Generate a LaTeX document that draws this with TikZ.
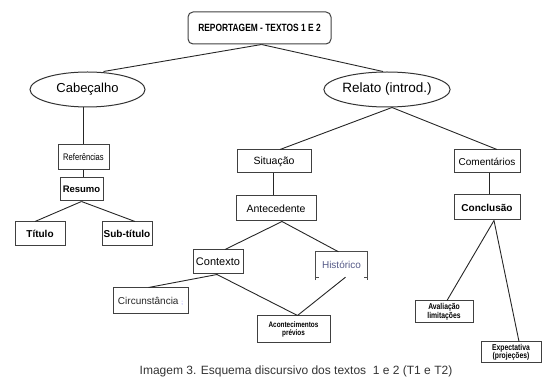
\documentclass[tikz,border=0pt]{standalone}
\usepackage{fontspec}
\setmainfont{Liberation Sans}
\usetikzlibrary{shapes.geometric}
\newcommand{\narrowtxt}[1]{\scalebox{0.8}[1]{#1}}
\definecolor{histc}{RGB}{85,90,135}
\begin{document}
\begin{tikzpicture}[x=1pt,y=-1pt,
  box/.style={draw=black!75,line width=1pt,inner sep=0pt,align=center},
  oval/.style={draw=black!80,ellipse,line width=1pt,inner sep=0pt},
  link/.style={draw=black!85,line width=0.9pt}]
\useasboundingbox (0,0) rectangle (549,379);
\node[box,rounded corners=5pt,minimum width=143pt,minimum height=32pt,font=\fontsize{10.5}{12}\selectfont\bfseries] (rep) at (259.5,28) {\narrowtxt{REPORTAGEM - TEXTOS 1 E 2}};
\node[oval,minimum width=115pt,minimum height=35pt,font=\fontsize{13}{15}\selectfont] (cab) at (87.5,89.5) {Cabeçalho};
\node[oval,minimum width=114pt,minimum height=35pt,font=\fontsize{13.5}{15}\selectfont] (rel) at (387,89.5) {Relato (introd.)};
\node[box,minimum width=51pt,minimum height=25pt,font=\fontsize{9.5}{11}\selectfont] (ref) at (83.5,157.5) {\narrowtxt{Referências}};
\node[box,minimum width=43pt,minimum height=23pt,font=\fontsize{9.5}{11}\selectfont\bfseries] (res) at (81.5,189.5) {Resumo};
\node[box,minimum width=50pt,minimum height=24pt,font=\fontsize{10}{12}\selectfont\bfseries] (tit) at (40,234) {Título};
\node[box,minimum width=50pt,minimum height=24pt,font=\fontsize{10}{12}\selectfont\bfseries] (sub) at (127,234) {Sub-título};
\node[box,minimum width=74pt,minimum height=23pt,font=\fontsize{10.5}{12}\selectfont] (sit) at (274,161.5) {Situação};
\node[box,minimum width=80pt,minimum height=25pt,font=\fontsize{10.5}{12}\selectfont] (ant) at (276,208.5) {Antecedente};
\node[box,minimum width=66pt,minimum height=23pt,font=\fontsize{10}{12}\selectfont] (com) at (487,161.5) {Comentários};
\node[box,minimum width=66pt,minimum height=25pt,font=\fontsize{10}{12}\selectfont\bfseries] (con) at (487,207.5) {Conclusão};
\node[box,minimum width=50pt,minimum height=24pt,font=\fontsize{11}{13}\selectfont] (ctx) at (218,262) {Contexto};
\node[inner sep=0pt,minimum width=51pt,minimum height=25pt,font=\fontsize{10}{12}\selectfont,text=histc] (his) at (341.5,264.5) {Histórico};
\draw[black!70,line width=1pt] ([yshift=-3pt]his.south west) -- (his.north west) -- (his.north east) -- ([yshift=-3pt]his.south east)
  (his.south west) -- ++(3,0) (his.south east) -- ++(-3,0);
\node[box,minimum width=75pt,minimum height=26pt,font=\fontsize{10}{12}\selectfont,text=black!85] (cir) at (150.5,301) {Circunstância {\color{blue!60}\fontsize{6}{7}\selectfont ;}};
\node[box,minimum width=73pt,minimum height=27pt,font=\fontsize{8}{9}\selectfont\bfseries] (acn) at (293.5,329.5) {\narrowtxt{Acontecimentos}\\[-1pt]\narrowtxt{prévios}};
\node[box,minimum width=58pt,minimum height=22pt,font=\fontsize{8.5}{9.5}\selectfont\bfseries] (ava) at (444,312) {\narrowtxt{Avaliação}\\[-1pt]\narrowtxt{limitações}};
\node[box,minimum width=60pt,minimum height=21pt,font=\fontsize{8.5}{9.5}\selectfont\bfseries] (exp) at (511,352.5) {\narrowtxt{Expectativa}\\[-1pt]\narrowtxt{(projeções)}};
\node[font=\fontsize{12}{14}\selectfont,text=black!80] (cap) at (296,371) {Imagem 3. Esquema discursivo dos textos \ 1 e 2 (T1 e T2)};
% connectors
\draw[link] ([xshift=2pt]rep.south) -- ([xshift=16pt]cab.north);
\draw[link] ([xshift=2pt]rep.south) -- ([xshift=-4pt]rel.north);
\draw[link] (ref.north) -- (ref.north |- cab.south);
\draw[link] (ref.south) -- (ref.south |- res.north);
\draw[link] (res.south) -- ([xshift=-5pt]tit.north);
\draw[link] (res.south) -- ([xshift=8pt]sub.north);
\draw[link] ([xshift=5pt]rel.south) -- ([xshift=6pt]sit.north);
\draw[link] ([xshift=5pt]rel.south) -- ([xshift=10pt]com.north);
\draw[link] ([xshift=-1pt]sit.south) -- ([xshift=-1pt]sit.south |- ant.north);
\draw[link] ([xshift=2pt]com.south) -- ([xshift=2pt]com.south |- con.north);
\draw[link] ([xshift=6pt]ant.south) -- ([xshift=7pt]ctx.north);
\draw[link] ([xshift=6pt]ant.south) -- ([xshift=-3pt]his.north);
\draw[link] ([xshift=-1pt]ctx.south) -- ([xshift=-2pt]cir.north);
\draw[link] ([xshift=-1pt]ctx.south) -- ([xshift=4pt]acn.north);
\draw[link] ([xshift=4pt]his.south) -- ([xshift=4pt]acn.north);
\draw[link] ([xshift=7pt]con.south) -- ([xshift=3pt]ava.north);
\draw[link] ([xshift=7pt]con.south) -- ([xshift=8pt]exp.north);
\end{tikzpicture}
\end{document}
